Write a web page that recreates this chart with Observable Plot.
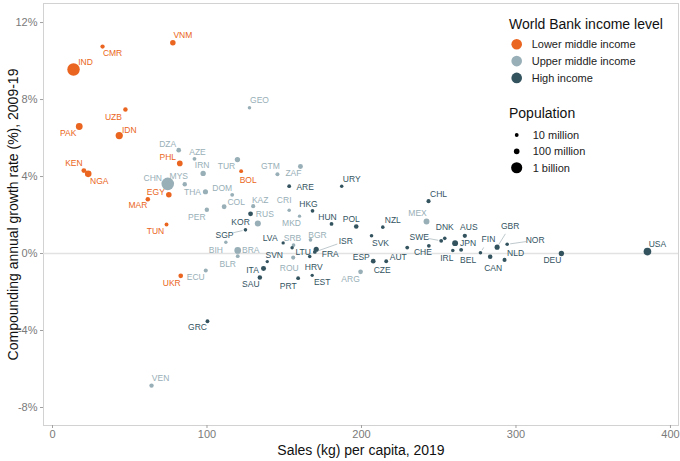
<!DOCTYPE html>
<html><head><meta charset="utf-8">
<script src="https://cdn.jsdelivr.net/npm/d3@7"></script>
<script src="https://cdn.jsdelivr.net/npm/@observablehq/plot@0.6"></script>
<style>
body{margin:0;background:#fff;font-family:"Liberation Sans",Arial,sans-serif;}
#wrap{position:relative;width:680px;height:461px;overflow:hidden;}
#wrap svg.plot g[aria-label$="tick label"]{fill:#7a7a7a;}
#wrap svg.plot g[aria-label$="-axis tick"]{stroke:#a0a0a0;}
#wrap svg.plot g[aria-label$="-axis label"]{font-size:14px;fill:#111;}
#legend{position:absolute;left:500px;top:0;}
</style></head><body><div id="wrap"></div>
<script>
// ---- data ----
const codes = ["IND","CMR","VNM","UZB","PAK","IDN","PHL","KEN","NGA","BOL","EGY","MAR","TUN","UKR",
"GEO","DZA","AZE","TUR","IRN","CHN","MYS","THA","DOM","GTM","ZAF","COL","PER","KAZ","CRI","RUS","MKD","BIH","BRA","BLR","ECU","SRB","BGR","ROU","ARG","MEX","VEN",
"ARE","URY","HKG","HUN","POL","KOR","SGP","LVA","SVN","ITA","SAU","LTU","FRA","ISR","HRV","EST","PRT","ESP","SVK","NZL","CZE","AUT","CHE","SWE","DNK","AUS","JPN","IRL","BEL","FIN","GBR","NOR","CAN","NLD","DEU","USA","CHL","GRC"];
const income = ["L","L","L","L","L","L","L","L","L","L","L","L","L","L",
"U","U","U","U","U","U","U","U","U","U","U","U","U","U","U","U","U","U","U","U","U","U","U","U","U","U","U",
"H","H","H","H","H","H","H","H","H","H","H","H","H","H","H","H","H","H","H","H","H","H","H","H","H","H","H","H","H","H","H","H","H","H","H","H","H","H"];
const sales = [13.6,32.4,77.9,47.2,17.3,43.2,82.4,20.3,23.1,122.1,75.3,61.7,73.8,83.0,
127.5,81.7,91.9,119.7,97.5,74.6,85.6,99.0,116.3,145.6,160.5,111.1,99.9,129.9,153.2,132.9,159.9,112.2,119.9,119.9,99.2,156.0,167.0,155.8,199.4,242.1,64.1,
153.2,187.2,168.3,180.6,196.6,128.2,124.9,149.3,139.0,136.6,134.2,155.1,170.7,169.8,166.5,168.1,159.0,207.6,206.5,213.8,216.0,229.6,243.6,251.6,253.9,266.9,260.6,259.1,264.5,277.0,287.8,294.3,283.3,292.6,329.4,385.1,243.4,100.3];
const growth = [9.56,10.75,10.95,7.48,6.6,6.13,4.68,4.31,4.14,4.28,3.05,2.82,1.51,-1.16,
7.58,5.37,4.92,4.88,4.16,3.62,3.6,3.21,3.05,4.12,4.52,2.43,2.27,2.46,2.25,1.56,1.94,0.59,0.16,-0.14,-0.88,0.44,0.71,-0.21,-0.95,1.66,-6.86,
3.5,3.5,2.22,1.54,1.4,2.06,1.23,0.55,-0.42,-0.78,-1.25,0.3,0.22,0.08,-0.16,-1.13,-1.28,-0.4,0.92,1.37,-0.4,0.31,0.4,0.66,0.79,0.92,0.54,0.16,0.19,0.04,0.33,0.48,-0.17,-0.33,0.0,0.1,2.72,-3.52];
const population = [1366,26,96,33,217,270,108,52,201,11.5,100,36,11.7,44,
3.7,43,10,83,83,1398,32,70,10.7,16.6,58.5,50,32.5,18.5,5,144,2.1,3.3,211,9.4,17.4,6.9,7,19.4,44.9,127.6,28.5,
9.8,3.5,7.5,9.8,38,51.7,5.7,1.9,2.1,60,34,2.8,67,9,4.1,1.3,10.3,47,5.5,4.9,10.7,8.9,8.6,10.3,5.8,25.4,126,4.9,11.5,5.5,66.8,5.3,37.6,17.3,83,328,19,10.7];
const incomeCodes = ["L","U","H"];
const incomeNames = ["Lower middle income","Upper middle income","High income"];
const popLegend = [10,100,1000];
const popLegendNames = ["10 million","100 million","1 billion"];
const xTicks = [0,100,200,300,400];
const yTicks = [-8,-4,0,4,8,12];

// ---- styling / layout ----
const incomeColors = ["#EA6520","#98AFB7","#33535F"];
// label nudges in pixels (repel-style placement)
const labelNudge = {IND:[12,-7],CMR:[10,7],VNM:[10,-7],UZB:[-12,8],PAK:[-11,7],IDN:[10,-5],PHL:[-12,-6],KEN:[-10,-7],NGA:[11,7],BOL:[7,9],EGY:[-13,-3],MAR:[-10,6],TUN:[-11,7],UKR:[-9,7],
GEO:[10,-7],DZA:[-11,-6],AZE:[3,-7],TUR:[-11,7],IRN:[-1,-8],CHN:[-15,-6],MYS:[-6,-8],THA:[-13,1],DOM:[-10,-7],GTM:[-7,-8],ZAF:[-7,7],COL:[12,-4],PER:[-10,7],KAZ:[7,-6],CRI:[-5,-10],RUS:[7,-9],MKD:[-8,7],BIH:[-10,8],BRA:[13,0],BLR:[-10,8],ECU:[-10,7],SRB:[-1,-7],BGR:[7,-5],ROU:[-4,11],ARG:[-10,7],MEX:[-9,-8],VEN:[9,-7],
ARE:[16,1],URY:[10,-7],HKG:[-4,-7],HUN:[-4,-7],POL:[-5,-7],KOR:[-10,8],SGP:[-21,5],LVA:[-13,-5],SVN:[7,-6],ITA:[-11,2],SAU:[-9,7],LTU:[11,5],FRA:[14,5],ISR:[31,-11],HRV:[4,11],EST:[10,7],PRT:[-10,8],ESP:[-12,-4],SVK:[9,7],NZL:[10,-7],CZE:[-4,9],AUT:[-9,10],CHE:[-6,6],SWE:[-22,-4],DNK:[0,-11],AUS:[4,-9],JPN:[13,0],IRL:[-6,8],BEL:[7,10],FIN:[8,-13],GBR:[13,-21],NOR:[28,-4],CAN:[3,11],NLD:[11,-7],DEU:[-9,7],USA:[10,-7],CHL:[10,-7],GRC:[-10,6]};
const leaders = ["ISR","SWE","FIN","GBR","NOR","SGP"];

const W=680,H=461,mL=43,mR=2,mT=3,mB=36;
const xDomain=[-5.83,405.2], yDomain=[-8.935,12.99];
const xs = Plot.scale({x:{domain:xDomain, range:[mL, W-mR]}});
const ys = Plot.scale({y:{domain:yDomain, range:[H-mB, mT]}});

const data = codes.map((c,i)=>({code:c,income:income[i],sales:sales[i],growth:growth[i],pop:population[i]}));
data.forEach(d=>{
  const [dx,dy] = labelNudge[d.code] || [0,-8];
  const px = xs.apply(d.sales), py = ys.apply(d.growth);
  d.lx = xs.invert(px+dx); d.ly = ys.invert(py+dy);
  const len = Math.hypot(dx,dy);
  const k0 = 3/len, k1 = Math.max(0,(len-9)/len);
  d.sx = xs.invert(px+dx*k0); d.sy = ys.invert(py+dy*k0);
  d.ex = xs.invert(px+dx*k1); d.ey = ys.invert(py+dy*k1);
});
const leaderData = data.filter(d=>leaders.includes(d.code));

const rOpts = {type:"sqrt", domain:[0,1400], range:[1.5,6.3]};
const plot = Plot.plot({
  width:W, height:H, marginLeft:mL, marginRight:mR, marginTop:mT, marginBottom:mB,
  className:"plot",
  style:{fontFamily:'"Liberation Sans",Arial,sans-serif', background:"white", color:"#111"},
  x:{domain:xDomain},
  y:{domain:yDomain},
  color:{domain:incomeCodes, range:incomeColors},
  r:rOpts,
  marks:[
    Plot.frame({stroke:"#d2d2d2"}),
    Plot.ruleY([0],{stroke:"#e2e2e2", strokeWidth:1.3}),
    Plot.axisX(xTicks,{tickSize:3, tickPadding:2, fontSize:11, label:"Sales (kg) per capita, 2019", labelAnchor:"center", labelOffset:29, labelArrow:false}),
    Plot.axisY(yTicks,{tickSize:3, tickPadding:3, fontSize:11, tickFormat:d=>`${d}%`, label:"Compounding annual growth rate (%), 2009-19", labelAnchor:"center", labelOffset:35, labelArrow:false}),
    Plot.link(leaderData,{x1:"sx",y1:"sy",x2:"ex",y2:"ey",stroke:"income",strokeOpacity:0.45,strokeWidth:0.7}),
    Plot.text(data,{x:"lx",y:"ly",text:"code",fill:"income",fontSize:8.5}),
    Plot.dot(data,{x:"sales",y:"growth",r:"pop",fill:"income"})
  ]
});
const wrap = document.getElementById("wrap");
wrap.appendChild(plot);

// ---- legend (inside panel, top right) ----
const rs = plot.scale("r");
const lg = d3.select(wrap).append("svg").attr("id","legend").attr("width",180).attr("height",185)
  .style("font-family",'"Liberation Sans",Arial,sans-serif');
lg.append("text").attr("x",9).attr("y",24).attr("dy","0.35em").attr("font-size",14).attr("fill","#111").text("World Bank income level");
incomeNames.forEach((n,i)=>{
  const cy = 44.3 + i*16.8;
  lg.append("circle").attr("cx",16.7).attr("cy",cy).attr("r",5.3).attr("fill",incomeColors[i]);
  lg.append("text").attr("x",31.7).attr("y",cy).attr("dy","0.35em").attr("font-size",11).attr("fill","#222").text(n);
});
lg.append("text").attr("x",9).attr("y",113.3).attr("dy","0.35em").attr("font-size",14).attr("fill","#111").text("Population");
popLegend.forEach((p,i)=>{
  const cy = 135 + i*16.4;
  lg.append("circle").attr("cx",16.7).attr("cy",cy).attr("r",rs.apply(p)).attr("fill","#000");
  lg.append("text").attr("x",32.7).attr("y",cy).attr("dy","0.35em").attr("font-size",11).attr("fill","#222").text(popLegendNames[i]);
});
</script></body></html>
